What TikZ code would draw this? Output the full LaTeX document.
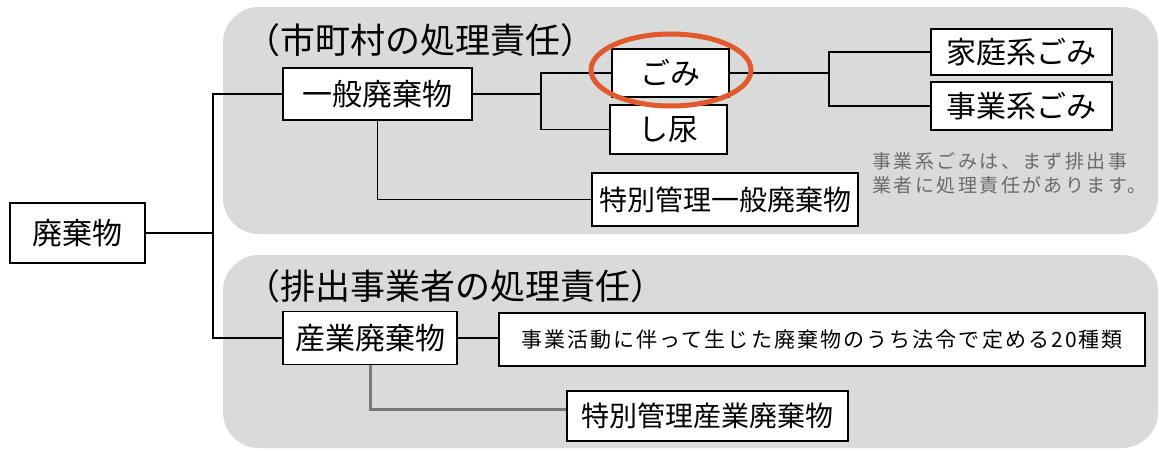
\documentclass[tikz,border=0pt]{standalone}
\usepackage{fontspec}
\setmainfont{Noto Sans CJK JP}
\newfontfamily\jphead{Noto Sans CJK JP}
\newfontfamily\jplong[LetterSpace=10]{Noto Sans CJK JP}
\newfontfamily\jpnote[LetterSpace=13]{Noto Sans CJK JP}
\usetikzlibrary{shapes.geometric}
\definecolor{panel}{HTML}{D9DBDB}
\definecolor{ringcol}{HTML}{E2592C}
\definecolor{notegray}{HTML}{6A6A6A}
\definecolor{gline}{HTML}{777777}
\begin{document}
\begin{tikzpicture}[x=1pt,y=-1pt,
  box/.style={draw=black, line width=1.8pt, fill=white, inner sep=0pt,
    font=\fontsize{30}{36}\selectfont},
  smallbox/.style={box, font=\fontsize{28}{34}\selectfont},
  conn/.style={draw=black, line width=1.6pt},
  gconn/.style={draw=gline, line width=3pt},
  panelbox/.style={fill=panel, rounded corners=36pt},
  head/.style={anchor=west, inner sep=0pt, font=\jphead\fontsize{35}{40}\selectfont}
]
\useasboundingbox (0,0) rectangle (1159,450);
\fill[panelbox] (223,7) rectangle (1158,234);
\fill[panelbox] (223,255) rectangle (1158,448);

\node[head] (h1) at (245,40) {（市町村の処理責任）};
\node[head] (h2) at (245,286) {（排出事業者の処理責任）};

\node[box, minimum width=135, minimum height=60] (w) at (77.5,233) {廃棄物};
\node[box, minimum width=189, minimum height=52] (ippan) at (377.5,94) {一般廃棄物};
\node[box, minimum width=117, minimum height=48] (gomi) at (670.5,73) {ごみ};
\node[box, minimum width=117, minimum height=49] (shinyo) at (668.5,129.5) {し尿};
\node[box, minimum width=181, minimum height=46] (katei) at (1021.5,52) {家庭系ごみ};
\node[box, minimum width=181, minimum height=48] (jigyo) at (1021.5,106) {事業系ごみ};
\node[smallbox, minimum width=266, minimum height=53] (tokuippan) at (725,199.5) {特別管理一般廃棄物};
\node[box, minimum width=174, minimum height=53] (sangyo) at (370,338) {産業廃棄物};
\node[box, minimum width=646, minimum height=53, font=\jplong\fontsize{21}{26}\selectfont] (long) at (822,339.5) {事業活動に伴って生じた廃棄物のうち法令で定める20種類};
\node[smallbox, minimum width=281, minimum height=50] (tokusangyo) at (707.5,416) {特別管理産業廃棄物};

\node[anchor=north west, align=left, inner sep=0pt, text=notegray,
  font=\jpnote\fontsize{19}{24}\selectfont] (note) at (872,152)
  {事業系ごみは、まず排出事\\業者に処理責任があります。};

\coordinate (trunk) at (213,233);
\coordinate (b1) at (541,94);
\coordinate (b2) at (829,73);

\draw[conn] (w.east) -- (trunk);
\draw[conn] (ippan.west) -- (ippan.west -| trunk) |- (sangyo.west);
\draw[conn] (ippan.east) -- (b1);
\draw[conn] (gomi.west) -| (b1) |- (shinyo.west);
\draw[conn] (gomi.east) -- (b2);
\draw[conn] (katei.west) -| (b2) |- (jigyo.west);
\draw[conn] (ippan.south) |- (tokuippan.west);
\draw[conn] (sangyo.east) -- (sangyo.east -| long.west);
\draw[gconn] (sangyo.south) |- ([yshift=7pt]tokusangyo.west);

\node[draw=ringcol, line width=5pt, ellipse, minimum width=160, minimum height=72, inner sep=0pt] (ring) at (671,70) {};
\end{tikzpicture}
\end{document}
